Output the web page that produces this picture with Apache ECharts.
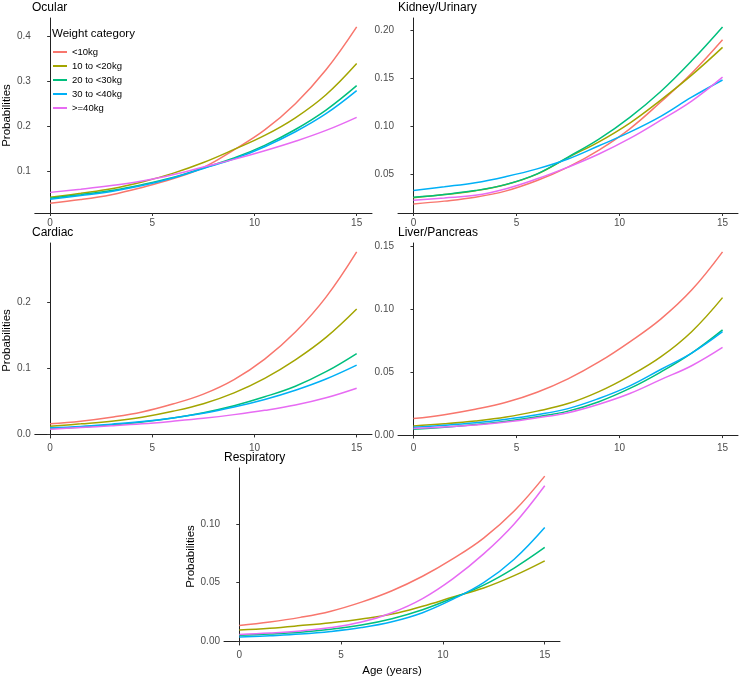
<!DOCTYPE html>
<html>
<head>
<meta charset="utf-8">
<script src="https://cdn.jsdelivr.net/npm/echarts@6/dist/echarts.min.js"></script>
<style>
    html, body { margin: 0; padding: 0; background: #fff; }
    #chart { width: 750px; height: 678px; }
</style>
</head>
<body>
<div id="chart"></div>
<script>
// ages the curves are read at
const ages = [0, 1.5, 3, 4.5, 6, 7.5, 9, 10.5, 12, 13.5, 15]
const categories = ['<10kg', '10 to <20kg', '20 to <30kg', '30 to <40kg', '>=40kg']
const colors = ['#F8766D', '#A3A500', '#00BF7D', '#00B0F6', '#E76BF3']

// probabilities per weight category (same order as categories)
const ocular = [
    [0.030, 0.038, 0.049, 0.065, 0.084, 0.109, 0.148, 0.192, 0.250, 0.325, 0.420],
    [0.043, 0.052, 0.062, 0.077, 0.096, 0.120, 0.149, 0.180, 0.219, 0.270, 0.339],
    [0.041, 0.049, 0.058, 0.071, 0.087, 0.108, 0.130, 0.158, 0.193, 0.236, 0.290],
    [0.039, 0.047, 0.056, 0.069, 0.086, 0.107, 0.128, 0.155, 0.188, 0.228, 0.279],
    [0.054, 0.061, 0.069, 0.079, 0.093, 0.110, 0.127, 0.146, 0.167, 0.191, 0.220]
]
const kidney = [
    [0.0186, 0.0215, 0.0255, 0.0322, 0.0430, 0.0570, 0.0748, 0.0970, 0.1250, 0.1550, 0.1900],
    [0.0250, 0.0283, 0.0323, 0.0388, 0.0497, 0.0670, 0.0834, 0.1030, 0.1270, 0.1530, 0.1820],
    [0.0255, 0.0285, 0.0325, 0.0390, 0.0500, 0.0675, 0.0862, 0.1090, 0.1360, 0.1680, 0.2034],
    [0.0327, 0.0365, 0.0407, 0.0472, 0.0552, 0.0655, 0.0793, 0.0935, 0.1100, 0.1300, 0.1480],
    [0.0224, 0.0248, 0.0276, 0.0345, 0.0448, 0.0570, 0.0707, 0.0870, 0.1060, 0.1260, 0.1510]
]
const cardiac = [
    [0.0160, 0.0200, 0.0260, 0.0340, 0.0460, 0.0610, 0.0830, 0.1140, 0.1550, 0.2080, 0.2765],
    [0.0125, 0.0160, 0.0200, 0.0260, 0.0350, 0.0465, 0.0630, 0.0850, 0.1130, 0.1470, 0.1900],
    [0.0090, 0.0110, 0.0145, 0.0190, 0.0250, 0.0330, 0.0435, 0.0570, 0.0730, 0.0950, 0.1225],
    [0.0100, 0.0120, 0.0155, 0.0195, 0.0250, 0.0320, 0.0415, 0.0530, 0.0670, 0.0840, 0.1050],
    [0.0080, 0.0105, 0.0130, 0.0160, 0.0200, 0.0245, 0.0300, 0.0365, 0.0445, 0.0555, 0.0700]
]
const liver = [
    [0.0131, 0.0162, 0.0205, 0.0260, 0.0340, 0.0446, 0.0580, 0.0740, 0.0920, 0.1150, 0.1453],
    [0.0073, 0.0090, 0.0112, 0.0143, 0.0190, 0.0250, 0.0345, 0.0470, 0.0620, 0.0820, 0.1090],
    [0.0047, 0.0063, 0.0084, 0.0110, 0.0145, 0.0190, 0.0265, 0.0370, 0.0500, 0.0650, 0.0834],
    [0.0063, 0.0078, 0.0098, 0.0126, 0.0162, 0.0210, 0.0290, 0.0390, 0.0520, 0.0650, 0.0820],
    [0.0052, 0.0065, 0.0080, 0.0103, 0.0137, 0.0178, 0.0245, 0.0330, 0.0440, 0.0550, 0.0695]
]
const respiratory = [
    [0.0135, 0.0165, 0.0205, 0.0258, 0.0335, 0.0432, 0.0555, 0.0705, 0.0880, 0.1110, 0.1407],
    [0.0098, 0.0113, 0.0135, 0.0160, 0.0192, 0.0233, 0.0300, 0.0378, 0.0455, 0.0560, 0.0686],
    [0.0052, 0.0063, 0.0079, 0.0104, 0.0140, 0.0194, 0.0270, 0.0370, 0.0480, 0.0625, 0.0800],
    [0.0038, 0.0049, 0.0063, 0.0085, 0.0118, 0.0168, 0.0245, 0.0360, 0.0500, 0.0700, 0.0970],
    [0.0060, 0.0072, 0.0090, 0.0118, 0.0165, 0.0245, 0.0365, 0.0535, 0.0745, 0.1000, 0.1325]
]

const xTicks = [0, 5, 10, 15]
const panels = [
    { title: 'Ocular', data: ocular, yTicks: [0.1, 0.2, 0.3, 0.4], dec: 1, min: 0.0084, max: 0.4396,
      box: { left: 32, top: 18, width: 340, height: 195 }, yName: true },
    { title: 'Kidney/Urinary', data: kidney, yTicks: [0.05, 0.10, 0.15, 0.20], dec: 2, min: 0.0091, max: 0.2127,
      box: { left: 398, top: 18, width: 340, height: 195 } },
    { title: 'Cardiac', data: cardiac, yTicks: [0, 0.1, 0.2], dec: 1, min: -0.0054, max: 0.2899,
      box: { left: 32, top: 243, width: 340, height: 195 }, yName: true },
    { title: 'Liver/Pancreas', data: liver, yTicks: [0, 0.05, 0.10, 0.15], dec: 2, min: -0.0023, max: 0.1523,
      box: { left: 398, top: 243, width: 340, height: 195 } },
    { title: 'Respiratory', data: respiratory, yTicks: [0, 0.05, 0.10], dec: 2, min: -0.003, max: 0.1476,
      box: { left: 224, top: 468, width: 336, height: 183 }, yName: true, xName: true }
]

const FONT = 'Liberation Sans, Arial, sans-serif'
const axisLine = { show: true, lineStyle: { color: '#222', width: 1 } }
const axisTick = { show: true, length: 3, lineStyle: { color: '#333' } }
const labelStyle = { color: '#4d4d4d', fontSize: 10, fontFamily: FONT }

const grid = []
const xAxis = []
const yAxis = []
const series = []
const title = []

panels.forEach((p, i) => {
    grid.push(Object.assign({ containLabel: false }, p.box))
    title.push({
        text: p.title,
        left: p.box.left,
        top: p.box.top - 16,
        padding: 0,
        textStyle: { fontSize: 12, fontWeight: 'normal', color: '#000', fontFamily: FONT }
    })
    xAxis.push({
        type: 'value', gridIndex: i, min: -0.75, max: 15.75,
        axisLine, splitLine: { show: false },
        axisTick: Object.assign({ customValues: xTicks }, axisTick),
        axisLabel: Object.assign({ customValues: xTicks, margin: 5 }, labelStyle),
        name: p.xName ? 'Age (years)' : '',
        nameLocation: 'middle', nameGap: 20,
        nameTextStyle: { fontSize: 11.5, color: '#000', fontFamily: FONT }
    })
    yAxis.push({
        type: 'value', gridIndex: i, min: p.min, max: p.max,
        axisLine, splitLine: { show: false },
        axisTick: Object.assign({ customValues: p.yTicks }, axisTick),
        axisLabel: Object.assign({
            customValues: p.yTicks, margin: 4,
            formatter: v => v.toFixed(p.dec)
        }, labelStyle),
        name: p.yName ? 'Probabilities' : '',
        nameLocation: 'middle', nameGap: 20, nameRotate: 90,
        nameTextStyle: { fontSize: 11.5, color: '#000', fontFamily: FONT }
    })
    p.data.forEach((vals, k) => {
        series.push({
            name: categories[k],
            type: 'line',
            xAxisIndex: i,
            yAxisIndex: i,
            data: ages.map((a, j) => [a, vals[j]]),
            smooth: 0.4,
            symbol: 'none',
            silent: true,
            lineStyle: { width: 1.5, color: colors[k] },
            itemStyle: { color: colors[k] }
        })
    })
})

const chart = echarts.init(document.getElementById('chart'))
chart.setOption({
    animation: false,
    color: colors,
    title,
    grid,
    xAxis,
    yAxis,
    series,
    legend: {
        data: categories,
        orient: 'vertical',
        left: 53,
        top: 45,
        padding: 0,
        icon: 'rect',
        itemWidth: 14,
        itemHeight: 2,
        itemGap: 0,
        selectedMode: false,
        textStyle: { fontSize: 9.5, lineHeight: 14, color: '#000', fontFamily: FONT }
    },
    graphic: [{
        type: 'text',
        left: 52,
        top: 28,
        style: { text: 'Weight category', fontSize: 11.5, fill: '#000', fontFamily: FONT }
    }]
})
</script>
</body>
</html>
